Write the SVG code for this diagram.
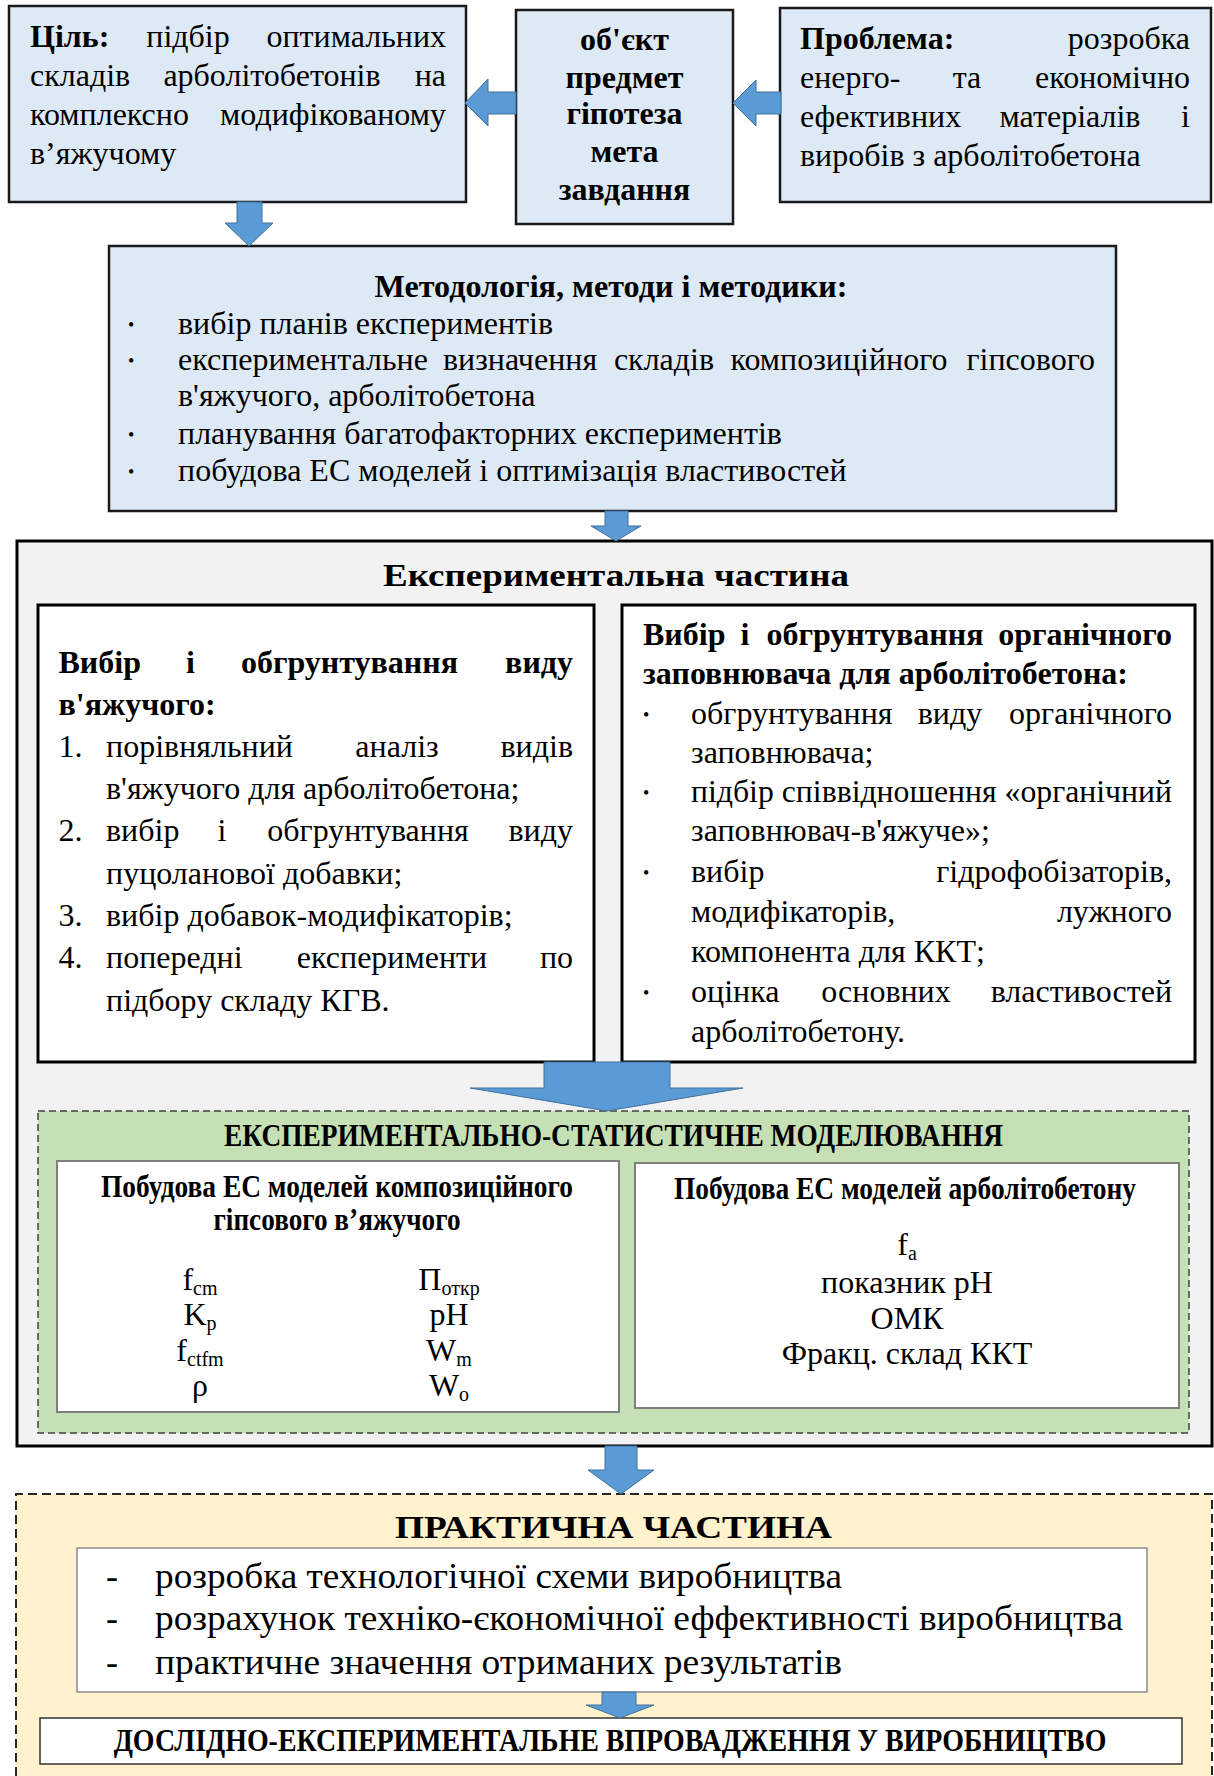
<svg xmlns="http://www.w3.org/2000/svg" width="1214" height="1776" viewBox="0 0 1214 1776">
<style>
text{font-family:"Liberation Serif","Times New Roman",serif;font-size:32px;fill:#000}
.b{font-weight:bold}
.m{text-anchor:middle}
.e{text-anchor:end}
.blue{fill:#dde9f5;stroke:#1a1a1a;stroke-width:2.5}
.white{fill:#fff;stroke:#000;stroke-width:3}
.gbox{fill:#fff;stroke:#7f7f7f;stroke-width:2}
.arrow{fill:#5b9bd5;stroke:#41719c;stroke-width:1}
.dot{font-size:18px}
.sub{font-size:20px}
.pr{font-size:36px}
</style>
<rect width="1214" height="1776" fill="#fff"/>

<g id="goal">
<rect class="blue" x="9" y="6" width="457" height="196"/>
<text class="b" x="30" y="47">Ціль:</text><text class="m" x="188" y="47">підбір</text><text class="e" x="446" y="47">оптимальних</text>
<text x="30" y="86">складів</text><text class="m" x="272" y="86">арболітобетонів</text><text class="e" x="446" y="86">на</text>
<text x="30" y="125">комплексно</text><text class="e" x="446" y="125">модифікованому</text>
<text x="30" y="164">в’яжучому</text>
</g>

<g id="object">
<rect class="blue" x="516" y="10" width="217" height="214"/>
<text class="b m" x="624.5" y="50">об'єкт</text>
<text class="b m" x="624.5" y="87.5">предмет</text>
<text class="b m" x="624.5" y="124">гіпотеза</text>
<text class="b m" x="624.5" y="162">мета</text>
<text class="b m" x="624.5" y="200">завдання</text>
</g>

<g id="problem">
<rect class="blue" x="780" y="8" width="431" height="194"/>
<text class="b" x="800" y="49">Проблема:</text><text class="e" x="1190" y="49">розробка</text>
<text x="800" y="88">енерго-</text><text class="m" x="967" y="88">та</text><text class="e" x="1190" y="88">економічно</text>
<text x="800" y="127">ефективних</text><text class="m" x="1070" y="127">матеріалів</text><text class="e" x="1190" y="127">і</text>
<text x="800" y="166">виробів з арболітобетона</text>
</g>

<g id="methodology">
<rect class="blue" x="109" y="246" width="1007" height="265"/>
<text class="b m" x="611" y="297" textLength="473" lengthAdjust="spacingAndGlyphs">Методологія, методи і методики:</text>
<text class="dot" x="128" y="331">•</text>
<text x="178" y="334">вибір планів експериментів</text>
<text class="dot" x="128" y="367">•</text>
<text x="178" y="370">експериментальне</text><text class="m" x="520" y="370">визначення</text><text class="m" x="664" y="370">складів</text><text class="m" x="839" y="370">композиційного</text><text class="e" x="1095" y="370">гіпсового</text>
<text x="178" y="406">в'яжучого, арболітобетона</text>
<text class="dot" x="128" y="441">•</text>
<text x="178" y="444">планування багатофакторних експериментів</text>
<text class="dot" x="128" y="478">•</text>
<text x="178" y="481">побудова ЕС моделей і оптимізація властивостей</text>
</g>

<g id="experimental">
<rect x="17" y="541" width="1195" height="905" fill="#f2f2f2" stroke="#000" stroke-width="3"/>
<text class="b m" x="616" y="586" font-size="34" textLength="466" lengthAdjust="spacingAndGlyphs">Експериментальна частина</text>
</g>

<g id="binder">
<rect class="white" x="38" y="605" width="556" height="457"/>
<text class="b" x="58.5" y="673">Вибір</text><text class="b m" x="190.5" y="673">і</text><text class="b m" x="349.5" y="673">обгрунтування</text><text class="b e" x="573" y="673">виду</text>
<text class="b" x="58.5" y="715">в'яжучого:</text>
<text x="58.5" y="757">1.</text><text x="106" y="757">порівняльний</text><text class="m" x="397" y="757">аналіз</text><text class="e" x="573" y="757">видів</text>
<text x="106" y="799">в'яжучого для арболітобетона;</text>
<text x="58.5" y="841">2.</text><text x="106" y="841">вибір</text><text class="m" x="222" y="841">і</text><text class="m" x="368" y="841">обгрунтування</text><text class="e" x="573" y="841">виду</text>
<text x="106" y="884">пуцоланової добавки;</text>
<text x="58.5" y="926">3.</text><text x="106" y="926">вибір добавок-модифікаторів;</text>
<text x="58.5" y="968">4.</text><text x="106" y="968">попередні</text><text class="m" x="392" y="968">експерименти</text><text class="e" x="573" y="968">по</text>
<text x="106" y="1011">підбору складу КГВ.</text>
</g>

<g id="filler">
<rect class="white" x="622" y="605" width="573" height="457"/>
<text class="b" x="643" y="645">Вибір</text><text class="b m" x="745" y="645">і</text><text class="b m" x="875" y="645">обгрунтування</text><text class="b e" x="1172" y="645">органічного</text>
<text class="b" x="643" y="684">заповнювача для арболітобетона:</text>
<text class="dot" x="643" y="721">•</text>
<text x="691" y="724">обгрунтування</text><text class="m" x="950" y="724">виду</text><text class="e" x="1172" y="724">органічного</text>
<text x="691" y="763">заповнювача;</text>
<text class="dot" x="643" y="799">•</text>
<text x="691" y="802" textLength="481" lengthAdjust="spacingAndGlyphs">підбір співвідношення «органічний</text>
<text x="691" y="841">заповнювач-в'яжуче»;</text>
<text class="dot" x="643" y="879">•</text>
<text x="691" y="882">вибір</text><text class="e" x="1172" y="882">гідрофобізаторів,</text>
<text x="691" y="922">модифікаторів,</text><text class="e" x="1172" y="922">лужного</text>
<text x="691" y="962">компонента для ККТ;</text>
<text class="dot" x="643" y="999">•</text>
<text x="691" y="1002">оцінка</text><text class="m" x="886" y="1002">основних</text><text class="e" x="1172" y="1002">властивостей</text>
<text x="691" y="1042">арболітобетону.</text>
</g>

<g id="modeling">
<rect x="38" y="1111" width="1151" height="322" fill="#c5e0b4" stroke="#404040" stroke-width="1.5" stroke-dasharray="7 4"/>
<text class="b m" x="613.5" y="1146" font-size="28" textLength="779" lengthAdjust="spacingAndGlyphs">ЕКСПЕРИМЕНТАЛЬНО-СТАТИСТИЧНЕ МОДЕЛЮВАННЯ</text>
</g>

<g id="binder-models">
<rect class="gbox" x="57" y="1161" width="562" height="251"/>
<text class="b m" x="337" y="1197" font-size="25" textLength="472" lengthAdjust="spacingAndGlyphs">Побудова ЕС моделей композиційного</text>
<text class="b m" x="337" y="1230" font-size="25" textLength="247" lengthAdjust="spacingAndGlyphs">гіпсового в’яжучого</text>
<text class="m" x="200" y="1290">f<tspan class="sub" dy="5">cm</tspan></text>
<text class="m" x="200" y="1325">K<tspan class="sub" dy="5">p</tspan></text>
<text class="m" x="200" y="1361">f<tspan class="sub" dy="5">ctfm</tspan></text>
<text class="m" x="200" y="1396">ρ</text>
<text class="m" x="449" y="1290">П<tspan class="sub" dy="5">откр</tspan></text>
<text class="m" x="449" y="1325">pH</text>
<text class="m" x="449" y="1361">W<tspan class="sub" dy="5">m</tspan></text>
<text class="m" x="449" y="1396">W<tspan class="sub" dy="5">o</tspan></text>
</g>

<g id="concrete-models">
<rect class="gbox" x="635" y="1163" width="544" height="245"/>
<text class="b m" x="905" y="1199" font-size="27" textLength="462" lengthAdjust="spacingAndGlyphs">Побудова ЕС моделей арболітобетону</text>
<text class="m" x="907" y="1255">f<tspan class="sub" dy="5">a</tspan></text>
<text class="m" x="907" y="1293">показник рН</text>
<text class="m" x="907" y="1329">ОМК</text>
<text class="m" x="907" y="1364">Фракц. склад ККТ</text>
</g>

<g id="practical">
<rect x="16" y="1494" width="1196" height="282" fill="#fff2cc"/>
<path d="M16,1776 V1494 H1212 V1776" fill="none" stroke="#262626" stroke-width="2" stroke-dasharray="9 5"/>
<text class="b m" x="613.5" y="1538" font-size="36" textLength="437" lengthAdjust="spacingAndGlyphs">ПРАКТИЧНА ЧАСТИНА</text>
</g>

<g id="practical-items">
<rect x="77" y="1548" width="1070" height="144" fill="#fff" stroke="#8c8c8c" stroke-width="1.5"/>
<text class="pr" x="106" y="1588">-</text><text class="pr" x="155" y="1588" textLength="687" lengthAdjust="spacingAndGlyphs">розробка технологічної схеми виробництва</text>
<text class="pr" x="106" y="1630">-</text><text class="pr" x="155" y="1630" textLength="968" lengthAdjust="spacingAndGlyphs">розрахунок техніко-єкономічної еффективності виробництва</text>
<text class="pr" x="106" y="1674">-</text><text class="pr" x="155" y="1674" textLength="687" lengthAdjust="spacingAndGlyphs">практичне значення отриманих результатів</text>
</g>

<g id="implementation">
<rect x="40" y="1718" width="1142" height="46" fill="#fff" stroke="#333" stroke-width="1.5"/>
<text class="b m" transform="translate(610,1751) scale(0.872,1)" x="0" y="0" font-size="26.5">ДОСЛІДНО-ЕКСПЕРИМЕНТАЛЬНЕ ВПРОВАДЖЕННЯ У ВИРОБНИЦТВО</text>
</g>

<g id="connectors">
<polygon class="arrow" points="465,103 488,79 488,92 516,92 516,114 488,114 488,126"/>
<polygon class="arrow" points="733,103 756,80 756,92 781,92 781,114 756,114 756,126"/>
<polygon class="arrow" points="237,202 262,202 262,223 273,223 249,246 225,223 237,223"/>
<polygon class="arrow" points="605,511 628,511 628,526 641,526 616,541 591,526 605,526"/>
<polygon class="arrow" points="544,1062 670,1062 670,1088 743,1088 607,1111 470,1088 544,1088"/>
<polygon class="arrow" points="605,1446 637,1446 637,1470 654,1470 621,1494 588,1470 605,1470"/>
<polygon class="arrow" points="602,1692 636,1692 636,1705 654,1705 620,1718 586,1705 602,1705"/>
</g>
</svg>
